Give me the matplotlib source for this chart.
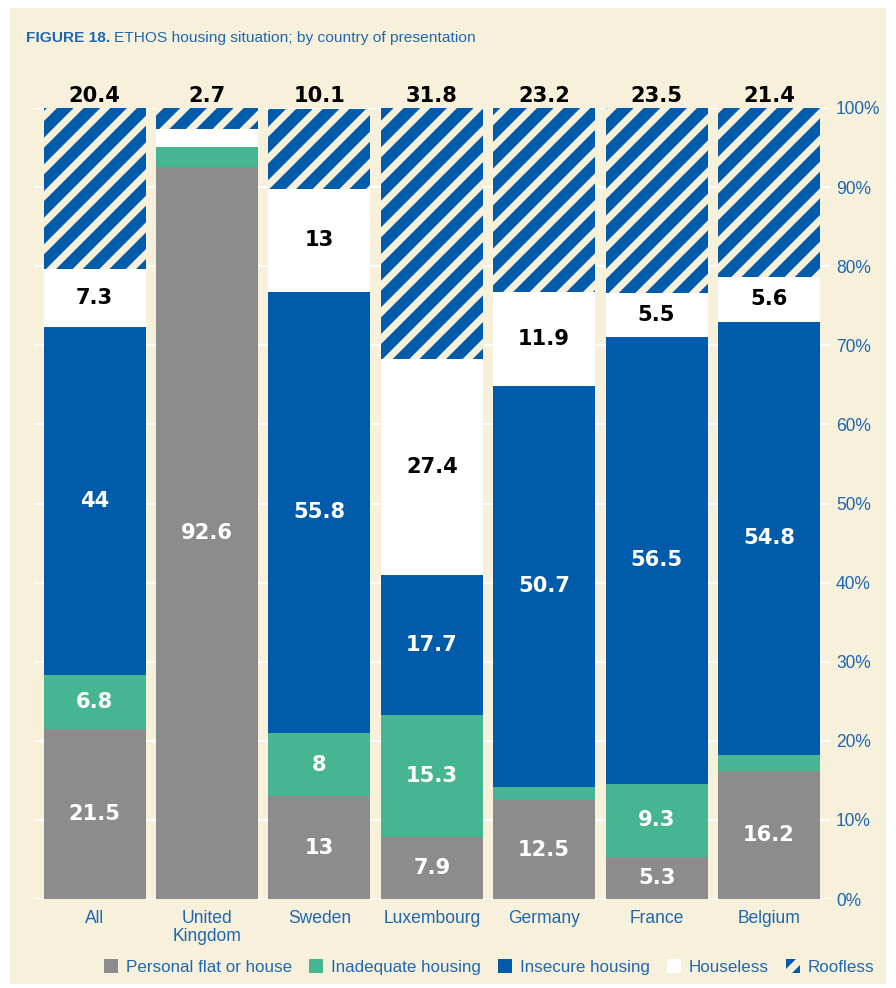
import matplotlib
matplotlib.use('Agg')
import matplotlib.pyplot as plt
import matplotlib.patches as mpatches
import numpy as np

countries = ['All', 'United\nKingdom', 'Sweden', 'Luxembourg', 'Germany', 'France', 'Belgium']
personal = [21.5, 92.6, 13, 7.9, 12.5, 5.3, 16.2]
inadequate = [6.8, 2.5, 8, 15.3, 1.7, 9.3, 2.0]
insecure = [44, 0, 55.8, 17.7, 50.7, 56.5, 54.8]
houseless = [7.3, 2.2, 13, 27.4, 11.9, 5.5, 5.6]
roofless = [20.4, 2.7, 10.1, 31.8, 23.2, 23.5, 21.4]
series_names = ['Personal flat or house', 'Inadequate housing', 'Insecure housing', 'Houseless', 'Roofless']

cream = '#F7F0DB'
grey = '#8C8C8C'
green = '#45B592'
blue = '#005BAA'
txtblue = '#1F68B0'

DPI = 160
W, H = 896, 988
def px(v):
    return v * 72.0 / DPI

plt.rcParams['font.family'] = ['Liberation Sans', 'DejaVu Sans']
plt.rcParams['hatch.linewidth'] = 3.2

fig = plt.figure(figsize=(W / DPI, H / DPI), dpi=DPI, facecolor='white')
fig.patches.append(mpatches.Rectangle((10 / W, 4 / H), 876 / W, 976 / H, transform=fig.transFigure,
                                      facecolor=cream, edgecolor='none', zorder=-10))

ax = fig.add_axes([35 / W, (H - 899) / H, 795 / W, 791 / H])
ax.set_facecolor('none')
x = np.arange(len(countries))
ax.set_xlim(-0.53, 6.543)
ax.set_ylim(0, 100)

ax.set_yticks(np.arange(0, 101, 10))
ax.set_yticklabels([f'{v}%' for v in range(0, 101, 10)])
ax.yaxis.tick_right()
ax.tick_params(axis='y', length=0, pad=px(6), labelsize=px(17.5), labelcolor=txtblue)
ax.set_xticks(x)
ax.set_xticklabels(countries, linespacing=1.1)
ax.tick_params(axis='x', length=0, pad=px(11), labelsize=px(17.5), labelcolor=txtblue)
ax.grid(axis='y', color='white', linewidth=px(2))
ax.set_axisbelow(True)
for s in ax.spines.values():
    s.set_visible(False)

width = 0.907
bottom = np.zeros(len(countries))
data = [personal, inadequate, insecure, houseless, roofless]
colors = [grey, green, blue, 'white', blue]
label_colors = ['white', 'white', 'white', 'black', 'black']
num_font = dict(family='DejaVu Sans', fontweight='bold', fontsize=px(21))
for k, vals in enumerate(data):
    vals = np.array(vals, dtype=float)
    if k == 4:
        ax.bar(x, vals, width, bottom=bottom, color=colors[k], edgecolor=cream,
               linewidth=0, hatch='//', zorder=2)
    else:
        ax.bar(x, vals, width, bottom=bottom, color=colors[k], linewidth=0, zorder=2)
    for i, v in enumerate(vals):
        if k == 4:
            ax.text(x[i], 101.5, f'{v:g}', ha='center', va='center', color='black',
                    clip_on=False, **num_font)
        elif v >= 4:
            ax.text(x[i], bottom[i] + v / 2, f'{v:g}', ha='center', va='center',
                    color=label_colors[k], zorder=3, **num_font)
    bottom += vals

handles = [mpatches.Patch(facecolor=grey, edgecolor='none'),
           mpatches.Patch(facecolor=green, edgecolor='none'),
           mpatches.Patch(facecolor=blue, edgecolor='none'),
           mpatches.Patch(facecolor='white', edgecolor='none'),
           mpatches.Patch(facecolor=blue, edgecolor=cream, linewidth=0, hatch='//')]
leg = fig.legend(handles, series_names, loc='center', bbox_to_anchor=(489 / W, (H - 967) / H),
                 ncol=5, frameon=False, fontsize=px(17), handlelength=0.85, handleheight=0.85,
                 handletextpad=0.45, columnspacing=1.0, borderaxespad=0)
for t in leg.get_texts():
    t.set_color(txtblue)

t1 = fig.text(26 / W, (H - 38) / H, 'FIGURE 18.', fontsize=px(15.5), fontweight='bold',
              color=txtblue, va='center', ha='left')
fig.canvas.draw()
bb = t1.get_window_extent()
fig.text((bb.x1 + 4) / W, (H - 38) / H, 'ETHOS housing situation; by country of presentation',
         fontsize=px(15.5), color=txtblue, va='center', ha='left')

fig.savefig('out.png', dpi=DPI, facecolor='white')
